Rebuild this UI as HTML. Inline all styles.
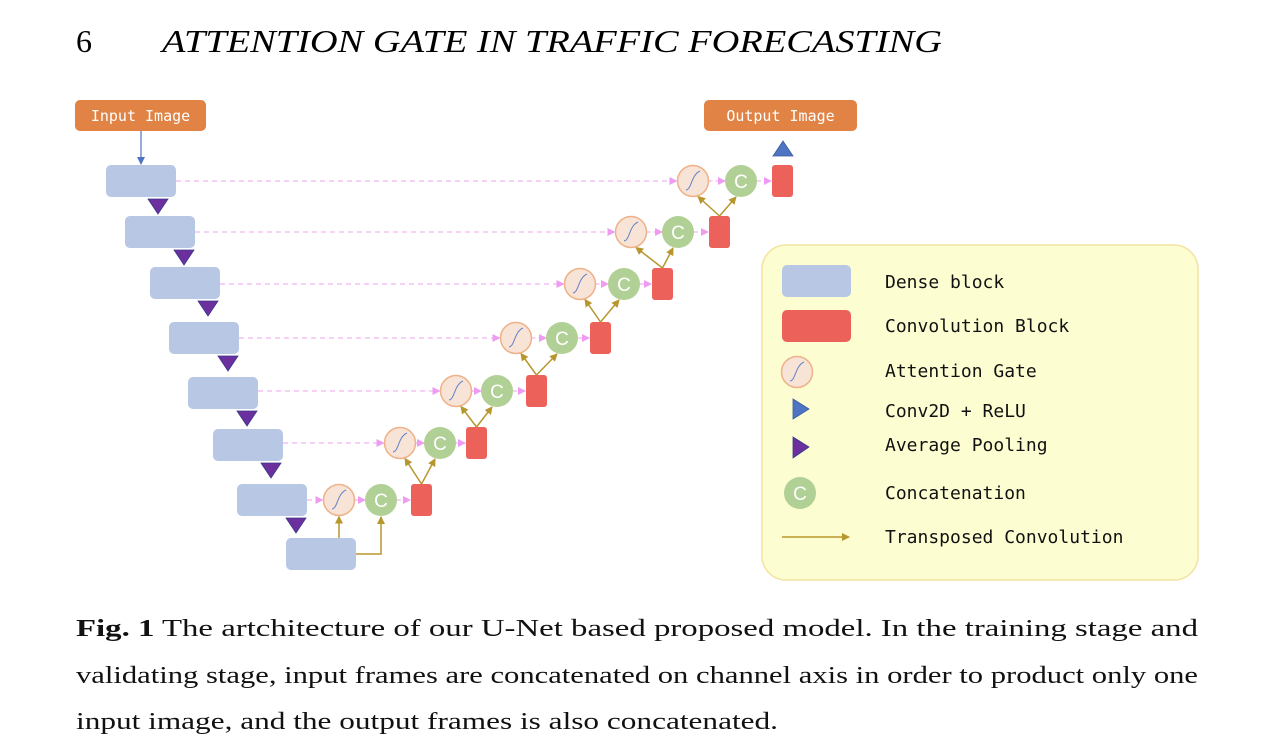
<!DOCTYPE html>
<html><head><meta charset="utf-8">
<style>
html,body{margin:0;padding:0;background:#fff;width:1276px;height:748px;overflow:hidden}
</style></head>
<body>
<svg id="fig" width="1276" height="748" viewBox="0 0 1276 748" xmlns="http://www.w3.org/2000/svg" style="position:absolute;left:0;top:0">
<defs>
<marker id="ag" markerWidth="8" markerHeight="8" refX="7" refY="4" orient="auto" markerUnits="userSpaceOnUse"><path d="M0,0 L8,4 L0,8 Z" fill="#b8962e"/></marker>
<marker id="ap" markerWidth="8" markerHeight="8" refX="7" refY="4" orient="auto" markerUnits="userSpaceOnUse"><path d="M0,0 L8,4 L0,8 Z" fill="#ee9cf2"/></marker>
<marker id="ab" markerWidth="8" markerHeight="8" refX="7" refY="4" orient="auto" markerUnits="userSpaceOnUse"><path d="M0,0 L8,4 L0,8 Z" fill="#4e74c4"/></marker>
</defs>
<text x="76" y="52" font-family="Liberation Serif,serif" font-size="32">6</text>
<text x="162" y="52" font-family="Liberation Serif,serif" font-style="italic" font-size="32" textLength="780" lengthAdjust="spacingAndGlyphs">ATTENTION GATE IN TRAFFIC FORECASTING</text>

<g>
<rect x="75" y="100" width="131" height="31" rx="5" fill="#e08344"/>
<text x="140.5" y="121" text-anchor="middle" font-family="DejaVu Sans Mono,Liberation Mono,monospace" font-size="15" fill="#fff">Input Image</text>
</g>
<line x1="141" y1="131" x2="141" y2="164" stroke="#4e74c4" stroke-width="1.2" marker-end="url(#ab)"/>
<g>
<rect x="704" y="100" width="153" height="31" rx="5" fill="#e08344"/>
<text x="780.5" y="121" text-anchor="middle" font-family="DejaVu Sans Mono,Liberation Mono,monospace" font-size="15" fill="#fff">Output Image</text>
</g>
<path d="M773,156 L783,141 L793,156 Z" fill="#4e74c4" stroke="#3a5a9a" stroke-width="0.8"/>
<g id="net"></g>

<g>
<rect x="762" y="245" width="436" height="335" rx="24" fill="#fdfdd2" stroke="#f3e3a0" stroke-width="1.5"/>
<rect x="782" y="265" width="69" height="32" rx="5" fill="#b8c8e4"/>
<rect x="782" y="310" width="69" height="32" rx="5" fill="#ec615a"/>
<circle cx="797" cy="372" r="15.5" fill="#f8e4d6" stroke="#eeb188" stroke-width="1.5"/>
<path d="M790,381 C796,380 795,366 804,362" fill="none" stroke="#6080c8" stroke-width="1"/>
<path d="M793,399 L809,409 L793,419 Z" fill="#4e74c4" stroke="#3a5a9a" stroke-width="0.8"/>
<path d="M793,437 L809,447 L793,458 Z" fill="#6b2f9e" stroke="#3a3a8a" stroke-width="0.8"/>
<circle cx="800" cy="493" r="16" fill="#b1d095"/>
<text x="800" y="500" text-anchor="middle" font-family="Liberation Sans,sans-serif" font-size="19" fill="#fff">C</text>
<line x1="782" y1="537" x2="849" y2="537" stroke="#b8962e" stroke-width="1.5" marker-end="url(#ag)"/>
<g font-family="DejaVu Sans Mono,Liberation Mono,monospace" font-size="18" fill="#111">
<text x="885" y="288">Dense block</text>
<text x="885" y="332">Convolution Block</text>
<text x="885" y="377">Attention Gate</text>
<text x="885" y="417">Conv2D + ReLU</text>
<text x="885" y="451">Average Pooling</text>
<text x="885" y="499">Concatenation</text>
<text x="885" y="543">Transposed Convolution</text>
</g>
</g>
<g font-family="Liberation Serif,serif" font-size="24" fill="#111">
<text x="76" y="636" textLength="1122" lengthAdjust="spacingAndGlyphs"><tspan font-weight="bold">Fig. 1</tspan>  The artchitecture of our U-Net based proposed model. In the training stage and</text>
<text x="76" y="683" textLength="1122" lengthAdjust="spacingAndGlyphs">validating stage, input frames are concatenated on channel axis in order to product only one</text>
<text x="76" y="729" textLength="702" lengthAdjust="spacingAndGlyphs">input image, and the output frames is also concatenated.</text>
</g>
</svg>
<script>
// encoder dense blocks (left x, top y), level 1..8
const denseX=[106,125,150,169,188,213,237,286];
const denseY=[165,216,267,322,377,429,484,538];
const poolX=[158,184,208,228,247,271,296];
// decoder levels 1..7: attention gate cx, concat cx, conv block left x, row center y
const agX=[693,631,580,516,456,400,339];
const cX=[741,678,624,562,497,440,381];
const convX=[772,709,652,590,526,466,411];
const rowY=[181,232,284,338,391,443,500];
const NS="http://www.w3.org/2000/svg";
const g=document.getElementById('net');
function mk(tag,attrs,parent){const e=document.createElementNS(NS,tag);for(const k in attrs)e.setAttribute(k,attrs[k]);(parent||g).appendChild(e);return e;}
const DW=70,DH=32,CW=21,CH=32,R=15.5;
for(let i=0;i<7;i++){
  const l=mk('line',{x1:denseX[i]+DW,y1:rowY[i],x2:agX[i]-R-1,y2:rowY[i],stroke:'#f2b4f4','stroke-width':1.2,'stroke-dasharray':'5,4','marker-end':'url(#ap)'});
  
  
  const a=mk('line',{x1:agX[i]+R,y1:rowY[i],x2:cX[i]-16,y2:rowY[i],stroke:'#f2b4f4','stroke-width':1.2,'stroke-dasharray':'4,3','marker-end':'url(#ap)'});
  
  
  const b=mk('line',{x1:cX[i]+16,y1:rowY[i],x2:convX[i]-1,y2:rowY[i],stroke:'#f2b4f4','stroke-width':1.2,'stroke-dasharray':'4,3','marker-end':'url(#ap)'});
  
  
}
for(let i=0;i<8;i++){
  const r=mk('rect',{x:denseX[i],y:denseY[i],width:DW,height:DH,rx:5,fill:'#b8c8e4'});
  
  
  if(i<7){
    const cx=poolX[i];
    const ty=denseY[i]+DH+2;
    const t=mk('path',{d:`M${cx-10},${ty} L${cx+10},${ty} L${cx},${ty+15} Z`,fill:'#6b2f9e',stroke:'#3a3a8a','stroke-width':0.8});
    
    
  }
}
for(let i=0;i<7;i++){
  if(i==6){
    const l1=mk('line',{x1:agX[6],y1:denseY[7],x2:agX[6],y2:rowY[6]+R+1,stroke:'#b8962e','stroke-width':1.5,'marker-end':'url(#ag)'});
    
    
    const l2=mk('polyline',{points:`${denseX[7]+DW},${denseY[7]+16} ${cX[6]},${denseY[7]+16} ${cX[6]},${rowY[6]+17}`,fill:'none',stroke:'#b8962e','stroke-width':1.5,'marker-end':'url(#ag)'});
    
    
    continue;
  }
  const sx=convX[i+1]+CW/2, sy=rowY[i+1]-CH/2;
  const l1=mk('line',{x1:sx,y1:sy,x2:agX[i]+5,y2:rowY[i]+R,stroke:'#b8962e','stroke-width':1.5,'marker-end':'url(#ag)'});
  
  
  const l2=mk('line',{x1:sx,y1:sy,x2:cX[i]-5,y2:rowY[i]+16,stroke:'#b8962e','stroke-width':1.5,'marker-end':'url(#ag)'});
  
  
}
for(let i=0;i<7;i++){
  const y=rowY[i];
  const ag=mk('g',{});
  
  
  mk('circle',{cx:agX[i],cy:y,r:R,fill:'#f8e4d6',stroke:'#eeb188','stroke-width':1.5},ag);
  mk('path',{d:`M${agX[i]-7},${y+9} C${agX[i]-1},${y+8} ${agX[i]-2},${y-6} ${agX[i]+7},${y-10}`,fill:'none',stroke:'#6080c8','stroke-width':1},ag);
  const c=mk('g',{});
  
  
  mk('circle',{cx:cX[i],cy:y,r:16,fill:'#b1d095'},c);
  const t=mk('text',{x:cX[i],y:y+7,'text-anchor':'middle','font-family':'Liberation Sans,sans-serif','font-size':19,fill:'#fff'},c);
  t.textContent='C';
  const r=mk('rect',{x:convX[i],y:y-CH/2,width:CW,height:CH,rx:3,fill:'#ec615a'});
  
  
}
</script>
</body></html>
